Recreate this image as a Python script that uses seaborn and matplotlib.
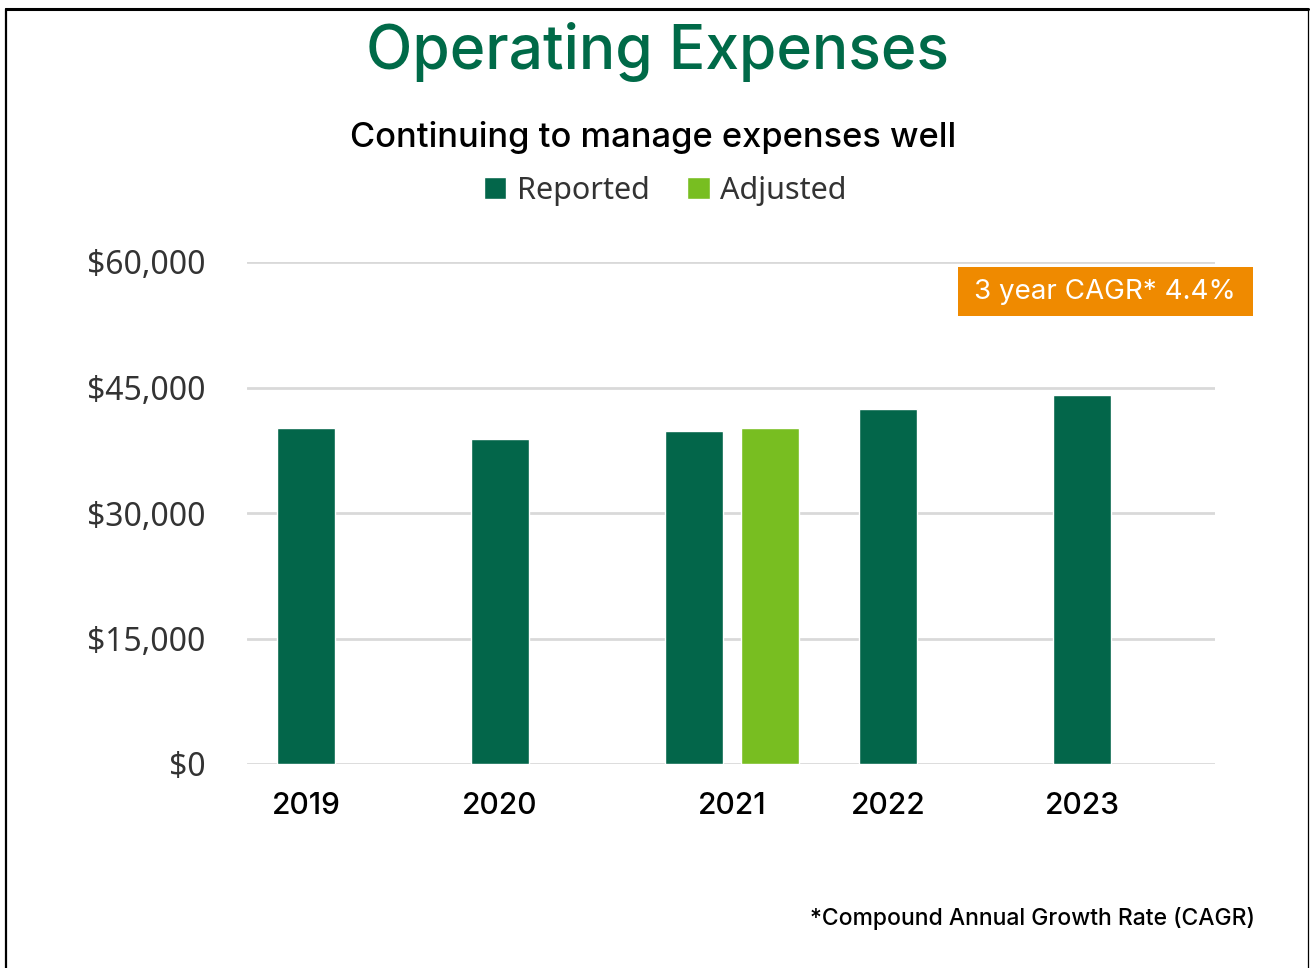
import matplotlib

matplotlib.use("Agg")
import matplotlib.pyplot as plt
import numpy as np
import pandas as pd
import seaborn as sns
from matplotlib.lines import Line2D
from matplotlib.patches import Rectangle
from matplotlib.ticker import FuncFormatter

# data
years = ["2019", "2020", "2021", "2022", "2023"]
reported = [40100, 38800, 39800, 42400, 44100]
adjusted_year = "2021"
adjusted = [40100]
y_ticks = [0, 15000, 30000, 45000, 60000]

DARK_GREEN = "#03664a"
LIGHT_GREEN = "#78be21"
ORANGE = "#ef8a00"
HEAD_FONT = ["Inter", "DejaVu Sans"]
BODY_FONT = ["Noto Sans", "DejaVu Sans"]

# adjusted bar sits just right of its reported bar
ADJ_OFFSET = 0.39
BAR_W = 0.30

idx = np.arange(len(years), dtype=float)
adj_idx = years.index(adjusted_year)
df = pd.DataFrame({
    "x": list(idx) + [idx[adj_idx] + ADJ_OFFSET],
    "value": reported + adjusted,
    "series": ["Reported"] * len(reported) + ["Adjusted"] * len(adjusted),
})

sns.set_theme(style="white")
plt.rcParams["font.family"] = BODY_FONT

fig = plt.figure(figsize=(13.1, 9.68), dpi=100)
ax = fig.add_axes([247 / 1310, 204 / 968, 968 / 1310, 502 / 968])

native_step = np.diff(np.unique(df["x"])).min()
sns.barplot(
    data=df, x="x", y="value", hue="series", native_scale=True, dodge=False,
    palette={"Reported": DARK_GREEN, "Adjusted": LIGHT_GREEN},
    width=BAR_W / native_step, saturation=1, ax=ax, zorder=3,
)

ax.set_ylim(0, 60000)
ax.set_xlim(-0.304, 4.686)
ax.set_yticks(y_ticks)
ax.yaxis.set_major_formatter(FuncFormatter(lambda v, _: f"${v:,.0f}"))
tick_pos = idx.copy()
tick_pos[adj_idx] += ADJ_OFFSET / 2
ax.set_xticks(tick_pos)
ax.set_xticklabels(years, family=HEAD_FONT, fontsize=21.5, fontweight="medium", color="black")
ax.tick_params(axis="x", length=0, pad=20)
ax.tick_params(axis="y", length=0, pad=30, labelsize=23, labelcolor="#333333")
ax.set_xlabel("")
ax.set_ylabel("")
ax.grid(True, axis="y", color="#d9d9d9", linewidth=2, zorder=0)
ax.grid(False, axis="x")
sns.despine(ax=ax, left=True, bottom=True)

sns.move_legend(
    ax, "center", bbox_to_anchor=(0.432, 1.142), ncol=2, frameon=False, title=None,
    fontsize=22, handlelength=0.75, handleheight=0.75, handletextpad=0.35, columnspacing=1.2,
)
for t in ax.get_legend().get_texts():
    t.set_color("#333333")

fig.text(657 / 1310, 1 - 52 / 968, "Operating Expenses", ha="center", va="center",
         family=HEAD_FONT, fontsize=43.5, fontweight="medium", color="#006a48")
fig.text(653 / 1310, 1 - 137 / 968, "Continuing to manage expenses well", ha="center", va="center",
         family=HEAD_FONT, fontsize=24.8, fontweight="medium", color="black")

# CAGR callout
fig.patches.append(Rectangle((958 / 1310, 1 - 316 / 968), 295 / 1310, 49 / 968,
                             transform=fig.transFigure, facecolor=ORANGE, edgecolor="none"))
fig.text(1105 / 1310, 1 - 292 / 968, "3 year CAGR* 4.4%", ha="center", va="center",
         family=HEAD_FONT, fontsize=20, color="white")

fig.text(1255 / 1310, 1 - 919 / 968, "*Compound Annual Growth Rate (CAGR)", ha="right", va="center",
         family=HEAD_FONT, fontsize=16.5, fontweight="medium", color="black")

# slide border (top, left, right)
fig.add_artist(Line2D([6 / 1310, 1308 / 1310], [1 - 8.5 / 968] * 2, transform=fig.transFigure,
                      color="black", linewidth=2.2))
fig.add_artist(Line2D([6 / 1310] * 2, [0, 1 - 8.5 / 968], transform=fig.transFigure,
                      color="black", linewidth=1.6))
fig.add_artist(Line2D([1308 / 1310] * 2, [0, 1 - 8.5 / 968], transform=fig.transFigure,
                      color="black", linewidth=0.9))

fig.savefig("out.png", dpi=100)
